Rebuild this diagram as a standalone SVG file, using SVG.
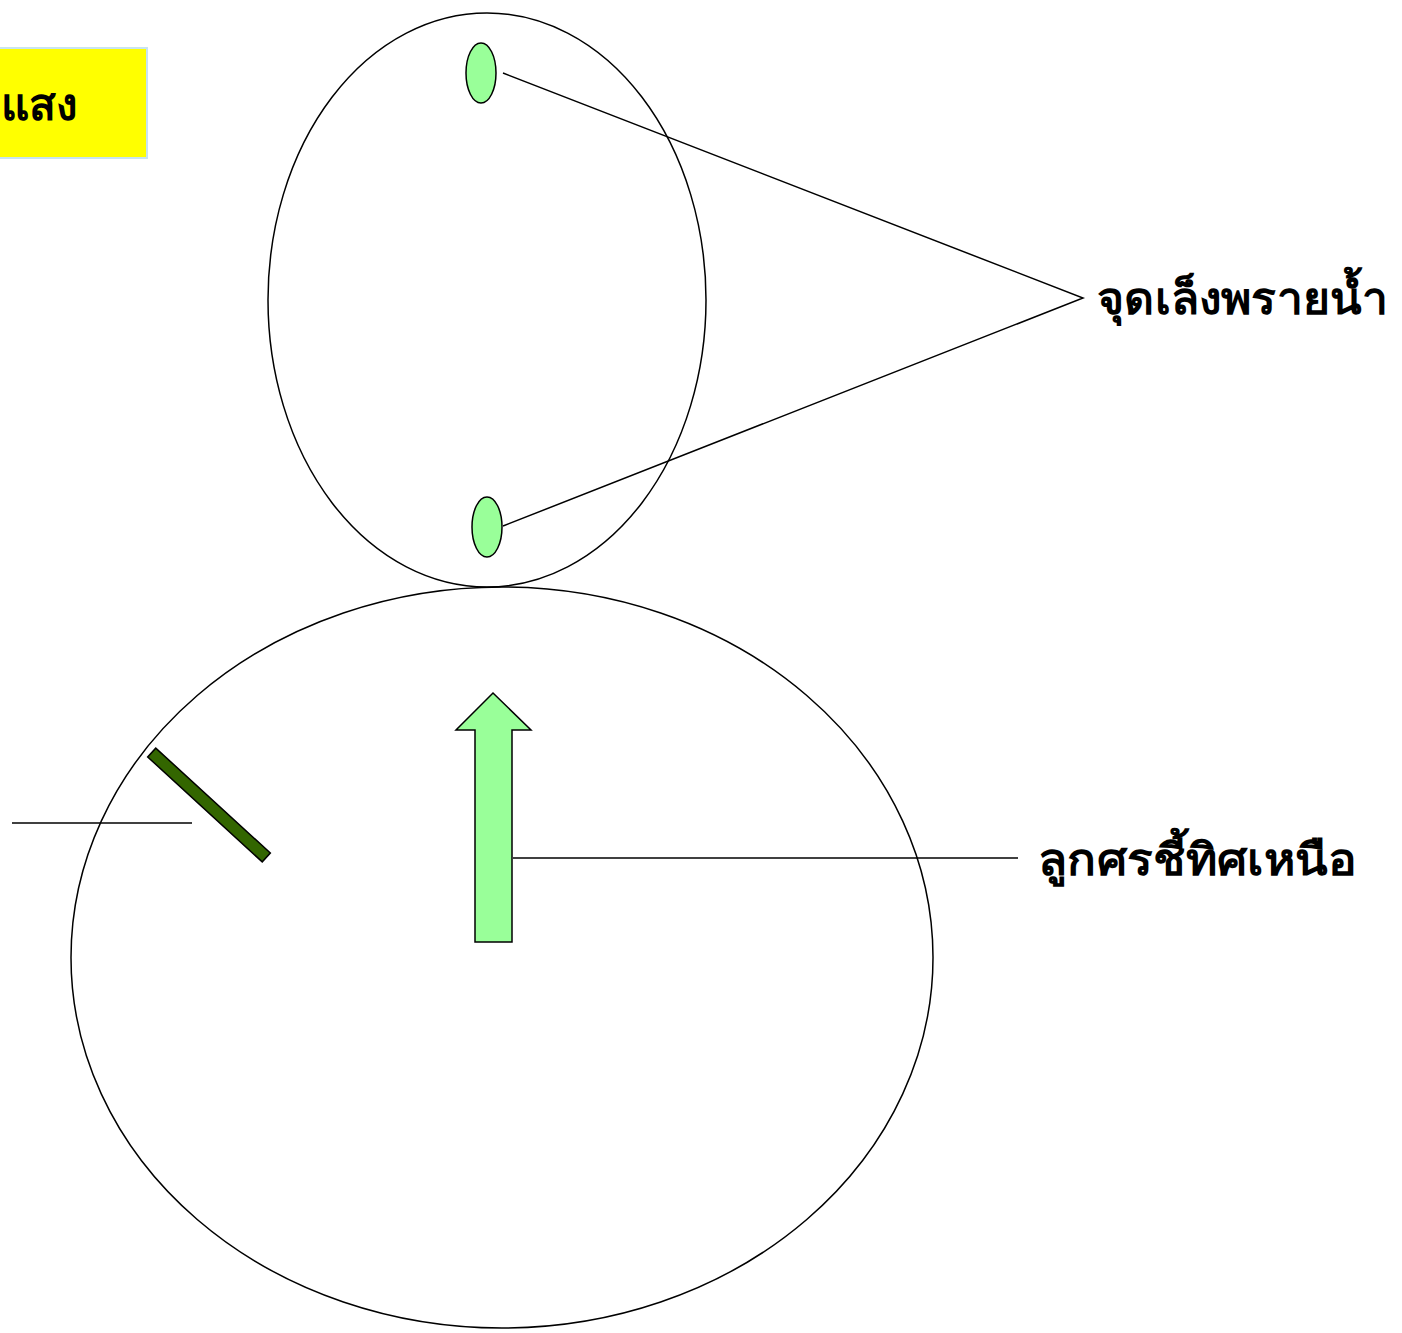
<svg xmlns="http://www.w3.org/2000/svg" width="1402" height="1333" viewBox="0 0 1402 1333">
  <style>
    .outline { fill: none; stroke: #000; stroke-width: 1.5; }
    .dot { fill: #99ff99; stroke: #000; stroke-width: 1.5; }
    .lead { fill: none; stroke: #000; stroke-width: 1.5; }
    .label { font-family: "Liberation Serif", "DejaVu Serif", serif; font-weight: bold; fill: #000; }
  </style>
  <rect width="1402" height="1333" fill="#fff"/>
  <g id="light-label">
    <rect x="-2" y="48" width="149" height="110" fill="#ffff00" stroke="#c8e4f0" stroke-width="2"/>
    <text class="label" x="77" y="120" font-size="44" text-anchor="end">แสง</text>
  </g>
  <g id="upper-circle">
    <ellipse class="outline" cx="487" cy="300" rx="219" ry="287"/>
  </g>
  <g id="dot-top">
    <ellipse class="dot" cx="481" cy="73" rx="15" ry="30"/>
  </g>
  <g id="dot-bottom">
    <ellipse class="dot" cx="487" cy="527" rx="15" ry="30"/>
  </g>
  <g id="lower-circle">
    <ellipse class="outline" cx="502" cy="957.5" rx="431" ry="370.5"/>
  </g>
  <g id="needle">
    <rect x="-77.7" y="-6" width="155.4" height="12" fill="#336600" stroke="#000" stroke-width="1.5" transform="translate(209 805) rotate(42.5)"/>
  </g>
  <g id="north-arrow">
    <polygon points="493,693 531,730 512,730 512,942 475,942 475,730 456,730" fill="#99ff99" stroke="#000" stroke-width="1.5"/>
  </g>
  <g id="label-luminous">
    <text class="label" x="1097" y="314" font-size="44" textLength="291" lengthAdjust="spacingAndGlyphs">จุดเล็งพรายน้ำ</text>
  </g>
  <g id="label-arrow">
    <text class="label" x="1038" y="875" font-size="44" textLength="318" lengthAdjust="spacingAndGlyphs">ลูกศรชี้ทิศเหนือ</text>
  </g>
  <g id="connectors">
    <polyline class="lead" points="503,73 1083,298 503,526"/>
    <line class="lead" x1="12" y1="823" x2="192" y2="823"/>
    <line class="lead" x1="513" y1="858" x2="1018" y2="858"/>
  </g>
</svg>
